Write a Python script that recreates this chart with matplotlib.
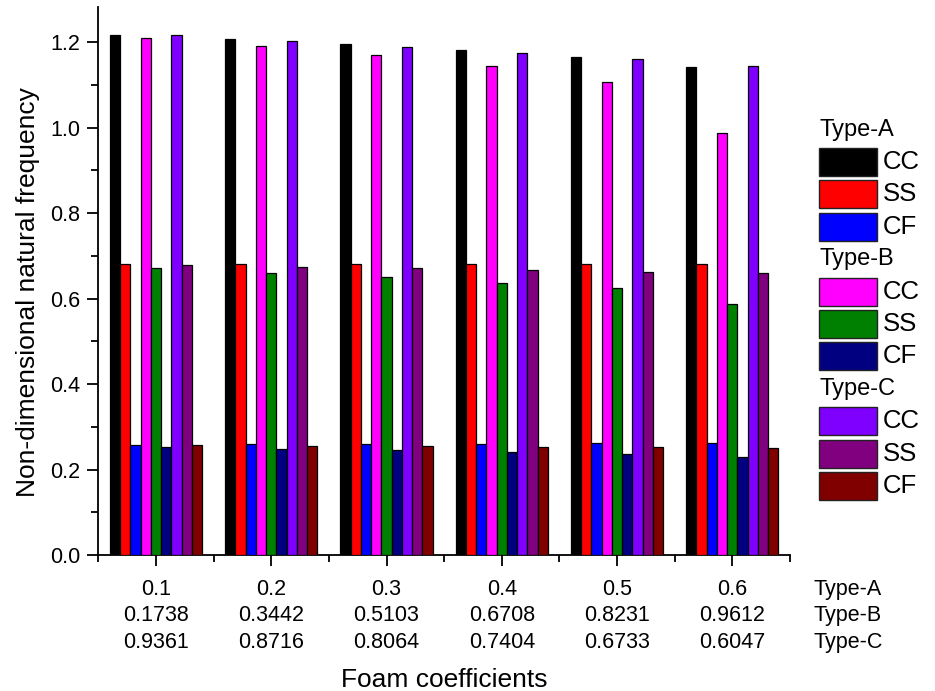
import matplotlib
matplotlib.use("Agg")
import matplotlib.pyplot as plt
from matplotlib.patches import Rectangle
from matplotlib.ticker import MultipleLocator, FixedLocator
import numpy as np

plt.rcParams['font.family'] = ['Liberation Sans', 'DejaVu Sans']

# ---- data ----
foam_A = ["0.1", "0.2", "0.3", "0.4", "0.5", "0.6"]
foam_B = ["0.1738", "0.3442", "0.5103", "0.6708", "0.8231", "0.9612"]
foam_C = ["0.9361", "0.8716", "0.8064", "0.7404", "0.6733", "0.6047"]

CC_A = [1.218, 1.208, 1.196, 1.181, 1.165, 1.143]
SS_A = [0.682, 0.682, 0.682, 0.682, 0.682, 0.681]
CF_A = [0.258, 0.259, 0.259, 0.260, 0.261, 0.262]
CC_B = [1.211, 1.192, 1.170, 1.145, 1.108, 0.988]
SS_B = [0.672, 0.660, 0.650, 0.637, 0.624, 0.588]
CF_B = [0.252, 0.249, 0.246, 0.241, 0.236, 0.229]
CC_C = [1.216, 1.203, 1.190, 1.176, 1.161, 1.145]
SS_C = [0.678, 0.675, 0.671, 0.667, 0.663, 0.659]
CF_C = [0.257, 0.256, 0.254, 0.253, 0.252, 0.250]

types = ["Type-A", "Type-B", "Type-C"]
conds = ["CC", "SS", "CF"]
series = [CC_A, SS_A, CF_A, CC_B, SS_B, CF_B, CC_C, SS_C, CF_C]
colors = ["#000000", "#FF0000", "#0000FF",
          "#FF00FF", "#008000", "#000080",
          "#8000FF", "#800080", "#800000"]

# ---- figure ----
W, H = 935, 691
fig = plt.figure(figsize=(W / 100, H / 100), dpi=100)
ax_l, ax_r, ax_b, ax_t = 98.3, 790.0, 555.0, 7.3
ax = fig.add_axes([ax_l / W, 1 - ax_b / H, (ax_r - ax_l) / W, (ax_b - ax_t) / H])

n = len(series)
bw = 0.8 / n
x = np.arange(1, len(foam_A) + 1)
for i, (vals, c) in enumerate(zip(series, colors)):
    ax.bar(x + (i - (n - 1) / 2) * bw, vals, width=bw, color=c,
           edgecolor="black", linewidth=0.9, zorder=3)

ax.set_xlim(0.5, len(foam_A) + 0.5)
ax.set_ylim(0, 1.282)
ax.spines['top'].set_visible(False)
ax.spines['right'].set_visible(False)
for s in ('left', 'bottom'):
    ax.spines[s].set_linewidth(1.3)

ax.yaxis.set_major_locator(MultipleLocator(0.2))
ax.yaxis.set_minor_locator(MultipleLocator(0.1))
ax.yaxis.set_major_formatter(matplotlib.ticker.FormatStrFormatter('%.1f'))
ax.xaxis.set_major_locator(FixedLocator(x))
ax.xaxis.set_minor_locator(FixedLocator(np.arange(0.5, len(foam_A) + 1, 1.0)))
ax.set_xticklabels([f"{a}\n{b}\n{c}" for a, b, c in zip(foam_A, foam_B, foam_C)])
ax.tick_params(axis='both', which='major', direction='out', length=8, width=1.3,
               labelsize=15.5, pad=5)
ax.tick_params(axis='both', which='minor', direction='out', length=5, width=1.3)
ax.tick_params(axis='x', which='major', pad=9)
LS = 1.36
for t in ax.get_xticklabels():
    t.set_linespacing(LS)

# row labels at the right of the x tick labels
ax.text((813 - ax_l) / (ax_r - ax_l), 0, "\n".join(types), transform=ax.transAxes,
        ha='left', va='top', fontsize=15.5, linespacing=LS)

ax.set_xlabel("Foam coefficients", fontsize=19)
ax.set_ylabel("Non-dimensional natural frequency", fontsize=19)
ax.xaxis.label.set_va('center')
ax.yaxis.label.set_va('center')
ax.xaxis.set_label_coords(0.5, (ax_b - 680) / (ax_b - ax_t))
ax.yaxis.set_label_coords((28 - ax_l) / (ax_r - ax_l), (ax_b - 292) / (ax_b - ax_t))

# place the "Type" row labels aligned with first tick-label row
fig.canvas.draw()
tl = ax.get_xticklabels()[0]
bb = tl.get_window_extent()
for t in ax.texts:
    t.set_position(((813 - ax_l) / (ax_r - ax_l),
                    ax.transAxes.inverted().transform((0, bb.y1))[1]))

# ---- legend (grouped, drawn by hand) ----
def fx(px):
    return px / W

def fy(py):
    return 1 - py / H

pitch = 32.4
row0 = 129.6
px_l, pw, ph = 819, 58, 28
row = 0
for g, tname in enumerate(types):
    yc = row0 + pitch * row
    fig.text(fx(px_l), fy(yc), tname, ha='left', va='center', fontsize=17)
    row += 1
    for k, cname in enumerate(conds):
        yc = row0 + pitch * row
        idx = g * 3 + k
        fig.add_artist(Rectangle((fx(px_l), fy(yc + ph / 2)), pw / W, ph / H,
                                 transform=fig.transFigure, facecolor=colors[idx],
                                 edgecolor="#222222", linewidth=1.0))
        fig.text(fx(px_l + pw + 6), fy(yc), cname, ha='left', va='center', fontsize=18.5)
        row += 1

fig.savefig("out.png", dpi=100)
